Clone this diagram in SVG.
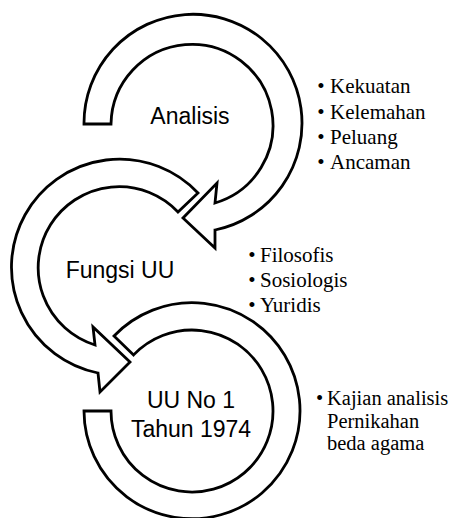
<svg xmlns="http://www.w3.org/2000/svg" width="459" height="518" viewBox="0 0 459 518">
<style>
.arc{fill:#fff;stroke:#000;stroke-width:2.8;stroke-linejoin:miter}
.lbl{font-family:"Liberation Sans",Arial,sans-serif;font-size:23px;fill:#000;text-anchor:middle}
.b{font-family:"Liberation Serif","Times New Roman",serif;font-size:21px;fill:#000}
.s{font-size:20.5px}
.dot{text-anchor:middle}
</style>
<rect width="459" height="518" fill="#fff"/>
<g id="connectors"></g>
<g id="node-uu1974">
<path class="arc" d="M 114,336 A 108 108 0 1 1 84,411 L 111,411 A 81 81 0 1 0 133.6,354.9 Z"/>
<text class="lbl" x="191" y="408">UU No 1</text>
<text class="lbl" x="191" y="437">Tahun 1974</text>
</g>
<g id="node-fungsi">
<path class="arc" d="M 198,193 A 108 108 0 1 0 98,373 L 100,392 L 130,362 L 93,327 L 95,345 A 81 81 0 1 1 178,212 Z"/>
<text class="lbl" x="120" y="278">Fungsi UU</text>
</g>
<g id="node-analisis">
<path class="arc" d="M 84,124 A 109 109 0 1 1 215,230 L 215,248 L 183,218 L 217,183 L 215,203 A 81 81 0 1 0 111,124 Z"/>
<text class="lbl" x="190" y="124">Analisis</text>
</g>
<g id="list-analisis" class="b">
<text class="dot" x="321" y="93">•</text><text x="330" y="93">Kekuatan</text>
<text class="dot" x="321" y="118.5">•</text><text x="330" y="118.5">Kelemahan</text>
<text class="dot" x="321" y="144">•</text><text x="330" y="144">Peluang</text>
<text class="dot" x="321" y="169">•</text><text x="330" y="169">Ancaman</text>
</g>
<g id="list-fungsi" class="b">
<text class="dot" x="252" y="262">•</text><text x="260" y="262">Filosofis</text>
<text class="dot" x="252" y="287">•</text><text x="260" y="287">Sosiologis</text>
<text class="dot" x="252" y="312">•</text><text x="260" y="312">Yuridis</text>
</g>
<g id="list-uu" class="b s">
<text class="dot" x="319.5" y="405">•</text><text x="327" y="405">Kajian analisis</text>
<text x="327" y="427.5">Pernikahan</text>
<text x="327" y="450">beda agama</text>
</g>
</svg>
